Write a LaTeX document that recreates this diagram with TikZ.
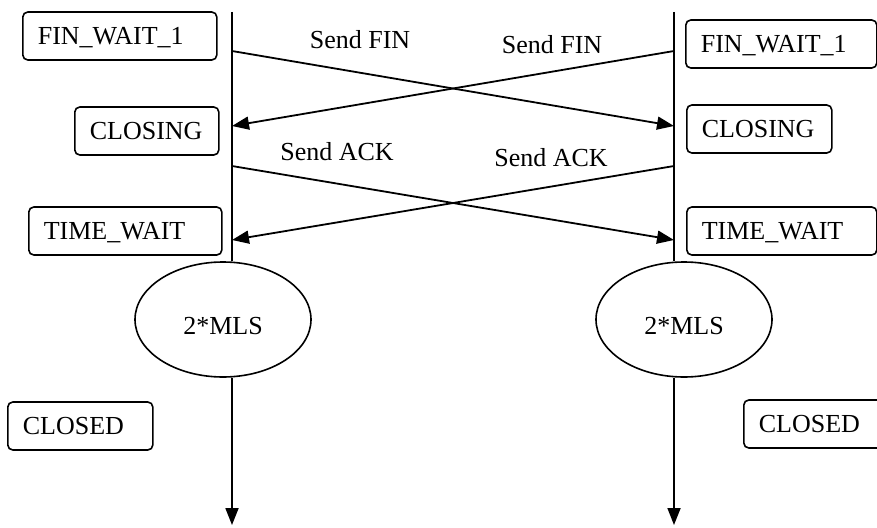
\documentclass[tikz,border=0pt]{standalone}
\usepackage{fontspec}
\setmainfont{Liberation Serif}
\usetikzlibrary{arrows.meta,shapes.geometric}
\begin{document}
\begin{tikzpicture}[x=1pt,y=-1pt,
  every node/.style={font=\fontsize{26}{30}\selectfont},
  state/.style={draw, rounded corners=5pt, line width=1.6pt, align=left,
    inner xsep=15pt, inner ysep=0pt, minimum height=48pt,
    text height=17pt, text depth=0pt, anchor=west},
  timer/.style={draw, ellipse, line width=1.6pt, inner sep=0pt,
    minimum width=176pt, minimum height=115pt, text height=30pt, text depth=0pt},
  tip/.style={-{Triangle[length=17pt,width=13pt]}},
  msg/.style={line width=1.8pt, tip},
  life/.style={line width=1.8pt},
  tag/.style={inner sep=0pt, text height=17pt, text depth=0pt}]
  \useasboundingbox (0,0) rectangle (877,527);
  \clip (0,0) rectangle (877,527);

  % states of the left endpoint
  \node[state, text width=164pt] (lfw) at (22,36)  {FIN\_WAIT\_1};
  \node[state, text width=114pt] (lcl) at (74,131) {CLOSING};
  \node[state, text width=163pt] (ltw) at (28,231) {TIME\_WAIT};
  \node[state, text width=115pt] (lcd) at (7,426)  {CLOSED};

  % states of the right endpoint
  \node[state, text width=161pt] (rfw) at (685,44)  {FIN\_WAIT\_1};
  \node[state, text width=115pt] (rcl) at (686,129) {CLOSING};
  \node[state, text width=160pt] (rtw) at (686,231) {TIME\_WAIT};
  \node[state, text width=115pt] (rcd) at (743,424) {CLOSED};

  % timers
  \node[timer] (lmls) at (223,319.5) {2*MLS};
  \node[timer] (rmls) at (684,319.5) {2*MLS};

  % time lines
  \coordinate (ltop) at (232,12);
  \coordinate (lend) at (232,525);
  \coordinate (rtop) at (674,12);
  \coordinate (rend) at (674,525);
  \draw[life] (ltop) -- (ltop |- lmls.north);
  \draw[life, tip] (ltop |- lmls.south) -- (lend);
  \draw[life] (rtop) -- (rtop |- rmls.north);
  \draw[life, tip] (rtop |- rmls.south) -- (rend);

  % message end points
  \coordinate (l1) at (232,51);
  \coordinate (r1) at (674,51);
  \coordinate (l2) at (232,126);
  \coordinate (r2) at (674,126);
  \coordinate (l3) at (232,166);
  \coordinate (r3) at (674,166);
  \coordinate (l4) at (232,240);
  \coordinate (r4) at (674,240);

  % messages
  \draw[msg] (l1) -- (r2);
  \draw[msg] (r1) -- (l2);
  \draw[msg] (l3) -- (r4);
  \draw[msg] (r3) -- (l4);

  \node[tag] (sf1) at (360,40)  {Send FIN};
  \node[tag] (sf2) at (552,45)  {Send FIN};
  \node[tag] (sa1) at (337,152) {Send ACK};
  \node[tag] (sa2) at (551,158) {Send ACK};
\end{tikzpicture}
\end{document}
